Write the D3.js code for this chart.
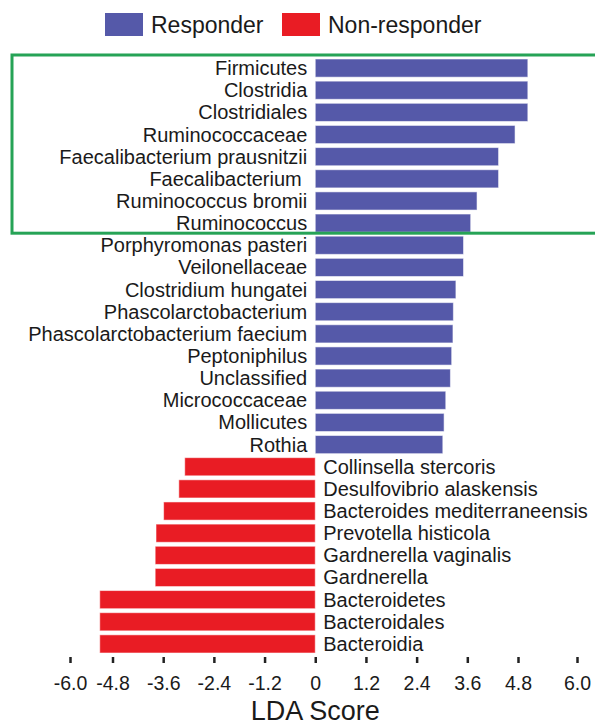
<!DOCTYPE html>
<html>
<head>
<meta charset="utf-8">
<script src="https://cdn.jsdelivr.net/npm/d3@7"></script>
<style>
	body { margin: 0; background: #fff; }
	text { font-family: "Liberation Sans", Arial, sans-serif; fill: #1a1a1a; }
</style>
</head>
<body>
<div id="lda-chart"></div>
<script>
// GLOBAL DATA

// Taxa enriched in responders, top to bottom
const responderTaxa = ["Firmicutes", "Clostridia", "Clostridiales", "Ruminococcaceae",
	"Faecalibacterium prausnitzii", "Faecalibacterium ", "Ruminococcus bromii", "Ruminococcus",
	"Porphyromonas pasteri", "Veilonellaceae", "Clostridium hungatei", "Phascolarctobacterium",
	"Phascolarctobacterium faecium", "Peptoniphilus", "Unclassified", "Micrococcaceae",
	"Mollicutes", "Rothia"];
const responderLDA = [5.0, 5.0, 5.0, 4.73, 4.34, 4.34, 3.83, 3.68, 3.51, 3.51, 3.33,
	3.27, 3.26, 3.23, 3.20, 3.09, 3.05, 3.02];

// Taxa enriched in non-responders, top to bottom
const nonResponderTaxa = ["Collinsella stercoris", "Desulfovibrio alaskensis",
	"Bacteroides mediterraneensis", "Prevotella histicola", "Gardnerella vaginalis",
	"Gardnerella", "Bacteroidetes", "Bacteroidales", "Bacteroidia"];
const nonResponderLDA = [-3.09, -3.23, -3.59, -3.77, -3.79, -3.79, -5.16, -5.16, -5.16];

// Axis ticks and legend entries
const ldaTicks = [-6.0, -4.8, -3.6, -2.4, -1.2, 0, 1.2, 2.4, 3.6, 4.8, 6.0];
const groups = ["Responder", "Non-responder"];
const groupColors = ["#5559a9", "#e91c24"];

// Which taxa the green box highlights (first rows of responders)
const highlighted = 8;

const width = 595, height = 726;

function show() {
	// Build one row list from the arrays
	let rows = [];
	for(let i=0; i<responderTaxa.length; ++i) {
		rows.push({name: responderTaxa[i], value: responderLDA[i], group: 0});
	}
	for(let i=0; i<nonResponderTaxa.length; ++i) {
		rows.push({name: nonResponderTaxa[i], value: nonResponderLDA[i], group: 1});
	}

	let svg = d3.select("#lda-chart")
	  .append("svg")
	    .attr("width", width)
	    .attr("height", height);

	// The original axis is stretched at its outer ticks, so a polylinear scale
	let x = d3.scaleLinear()
	  .domain([-6.0, -4.8, 4.8, 6.0])
	  .range([70, 112.5, 518, 577]);

	let y = d3.scaleBand()
	  .domain(rows.map(d => d.name))
	  .range([57, 655])
	  .paddingInner(0.18)
	  .paddingOuter(0.09);

	// Bars
	svg.append("g")
	  .selectAll("rect")
	  .data(rows)
	  .enter()
	  .append("rect")
	    .attr("x", d => x(Math.min(0, d.value)))
	    .attr("y", d => y(d.name))
	    .attr("width", d => Math.abs(x(d.value) - x(0)))
	    .attr("height", y.bandwidth())
	    .attr("fill", d => groupColors[d.group])
	    .attr("stroke", "#fff")
	    .attr("stroke-opacity", 0.55)
	    .attr("stroke-width", 1);

	// Taxon names, on the opposite side of zero from their bar
	svg.append("g")
	  .selectAll("text")
	  .data(rows)
	  .enter()
	  .append("text")
	    .attr("x", d => d.group === 0 ? x(0) - 8 : x(0) + 8)
	    .attr("y", d => y(d.name) + y.bandwidth() / 2)
	    .attr("dy", "0.35em")
	    .attr("text-anchor", d => d.group === 0 ? "end" : "start")
	    .style("white-space", "pre")
	    .style("font-size", "20px")
	    .text(d => d.name);

	// Green highlight box round the top responder taxa
	let boxTop = y(rows[0].name) - 4;
	let boxBottom = y(rows[highlighted - 1].name) + y.bandwidth() + 1;
	svg.append("rect")
	    .attr("x", 12)
	    .attr("y", boxTop)
	    .attr("width", 600)
	    .attr("height", boxBottom - boxTop)
	    .attr("fill", "none")
	    .attr("stroke", "#26a356")
	    .attr("stroke-width", 3);

	// Bottom axis, ticks only
	let axis = svg.append("g")
	    .attr("transform", "translate(0,657)")
	    .call(d3.axisBottom(x)
	      .tickValues(ldaTicks)
	      .tickSize(6)
	      .tickPadding(13)
	      .tickFormat(d => d === 0 ? "0" : d.toFixed(1)));
	axis.select(".domain").remove();
	axis.selectAll(".tick line")
	    .attr("stroke", "#222")
	    .attr("stroke-width", 2.5);
	axis.selectAll(".tick text")
	    .attr("fill", "#1a1a1a")
	    .style("font-size", "19.5px")
	    .style("font-family", "'Liberation Sans', Arial, sans-serif");

	svg.append("text")
	    .attr("x", x(0))
	    .attr("y", 720)
	    .attr("text-anchor", "middle")
	    .style("font-size", "27px")
	    .text("LDA Score");

	// Legend
	const legendX = [105, 282];
	let legend = svg.append("g")
	  .selectAll("g")
	  .data(groups)
	  .enter()
	  .append("g")
	    .attr("transform", (d, i) => "translate(" + legendX[i] + ",13)");
	legend.append("rect")
	    .attr("width", 38)
	    .attr("height", 23)
	    .attr("fill", (d, i) => groupColors[i]);
	legend.append("text")
	    .attr("x", 46)
	    .attr("y", 20)
	    .style("font-size", "23px")
	    .text(d => d);
}

show();
</script>
</body>
</html>
